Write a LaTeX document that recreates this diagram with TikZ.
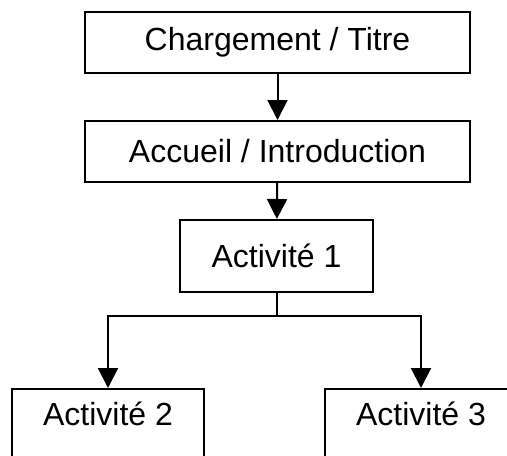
\documentclass[tikz,border=0pt]{standalone}
\usepackage{fontspec}
\setmainfont{Liberation Sans}
\usetikzlibrary{arrows.meta}
\tikzset{>={Triangle[length=10pt,width=10pt]}}
\tikzset{
    etape/.style={draw,line width=1pt,minimum width=#1,minimum height=30.5pt,
        inner sep=0pt,font=\fontsize{16}{19}\selectfont},
    suite/.style={etape=#1,anchor=north,text height=11.5pt,text depth=40pt,inner ysep=6.85pt}
}

\begin{document}
\begin{tikzpicture}[x=0.5pt,y=-0.5pt,line width=1pt]
    \clip (0,0) rectangle (507,455);
    \node[etape=192.5pt] (titre) at (277.5,42.5) {Chargement / Titre};
    \node[etape=192.5pt] (accueil) at (277.5,151.5) {Accueil / Introduction};
    \node[etape=96.5pt,minimum height=36pt] (act1) at (276.5,256) {Activité 1};
    \node[suite=96pt] (act2) at (108,388) {Activité 2};
    \node[suite=96pt] (act3) at (421,388) {Activité 3};
    \coordinate (split) at (276.5,316);
    \draw[->] (titre) -- (accueil);
    \draw[->] (accueil) -- (act1);
    \draw (act1) -- (split);
    \draw[->] (split) -| (act2);
    \draw[->] (split) -| (act3);
\end{tikzpicture}
\end{document}
